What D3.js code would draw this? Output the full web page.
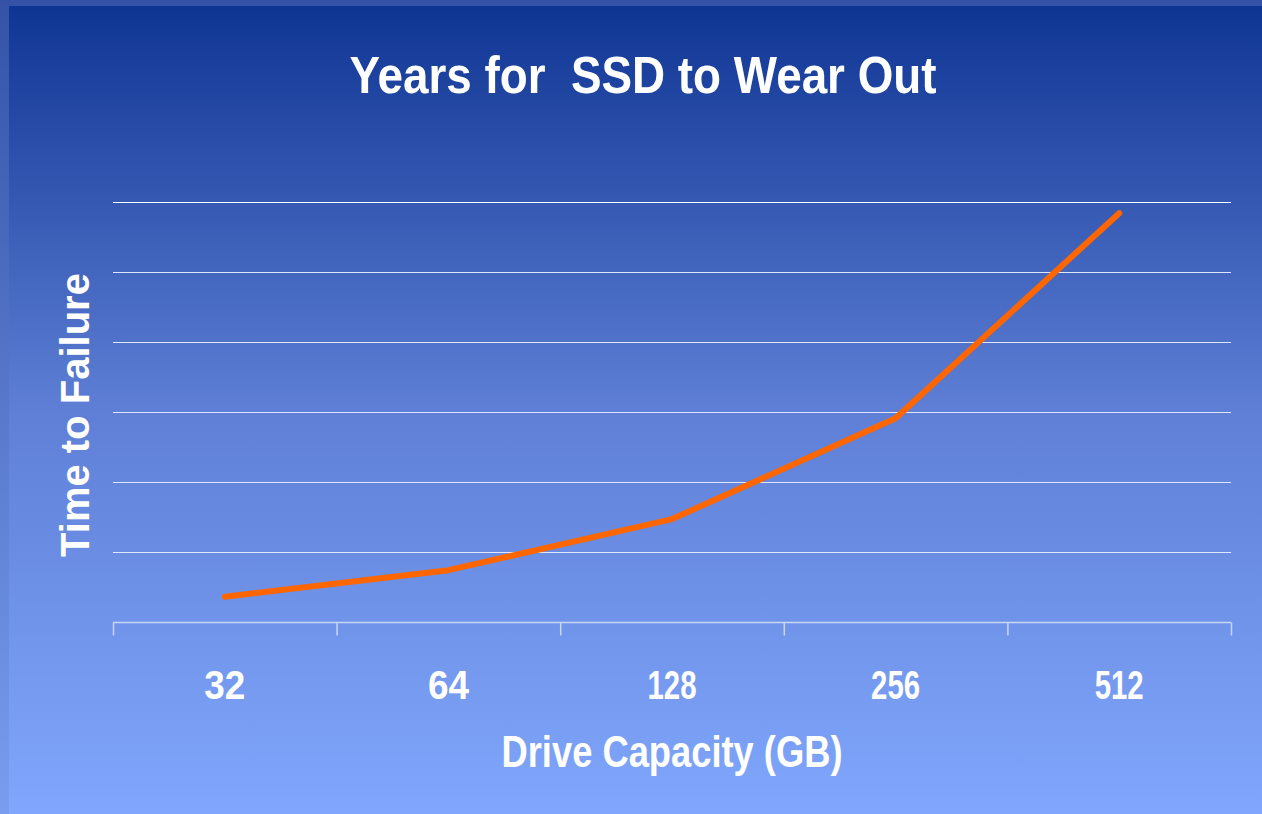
<!DOCTYPE html>
<html>
<head>
<meta charset="utf-8">
<script src="https://cdn.jsdelivr.net/npm/d3@7"></script>
<style>
  html, body { margin: 0; padding: 0; overflow: hidden; }
  svg { display: block; }
</style>
</head>
<body>
<script>
// chart data
const capacities = ["32", "64", "128", "256", "512"];
const yearsToFailure = [0.36, 0.74, 1.47, 2.91, 5.84];
const gridTicks = [0, 1, 2, 3, 4, 5, 6];

var width = 1262,
	height = 814;

var svg = d3.select("body").append("svg").attr("width", width).attr("height", height);

var defs = svg.append("defs");

var frameGrad = defs.append("linearGradient").attr("id", "frame").attr("x1", 0).attr("y1", 0).attr("x2", 0).attr("y2", 1);
frameGrad.append("stop").attr("offset", "0%").attr("stop-color", "#3453a6");
frameGrad.append("stop").attr("offset", "100%").attr("stop-color", "#7a9df0");

var bgGrad = defs.append("linearGradient").attr("id", "bg").attr("x1", 0).attr("y1", 0).attr("x2", 0).attr("y2", 1);
bgGrad.append("stop").attr("offset", "0%").attr("stop-color", "#0f3593");
bgGrad.append("stop").attr("offset", "50%").attr("stop-color", "#5e7fd5");
bgGrad.append("stop").attr("offset", "100%").attr("stop-color", "#80a7fd");

// background + slide frame
svg.append("rect").attr("width", width).attr("height", height).attr("fill", "url(#frame)");
svg.append("rect").attr("x", 9).attr("y", 6).attr("width", width - 9).attr("height", height - 6).attr("fill", "url(#bg)");

var x = d3.scaleBand().domain(capacities).range([113, 1231]).padding(0);
var y = d3.scaleLinear().domain([0, 6]).range([622, 202]);

// horizontal gridlines
svg.append("g")
	.selectAll("line")
	.data(gridTicks.slice(1))
	.enter()
	.append("line")
	.attr("x1", 113)
	.attr("x2", 1231)
	.attr("y1", (d) => y(d) + 0.5)
	.attr("y2", (d) => y(d) + 0.5)
	.style("stroke", (d) => (d === 6 ? "#ffffff" : "#dfe7fb"))
	.style("stroke-width", 1.2);

// x axis with category separators
var xAxis = svg.append("g").attr("transform", "translate(0," + (y(0) + 0.5) + ")");
xAxis.append("line").attr("x1", 113).attr("x2", 1231).style("stroke", "#c9d6f6").style("stroke-width", 1.5);
var edges = capacities.map((c) => x(c)).concat([x.range()[1]]);
xAxis.selectAll(".sep")
	.data(edges)
	.enter()
	.append("line")
	.attr("class", "sep")
	.attr("x1", (d) => d + 0.5)
	.attr("x2", (d) => d + 0.5)
	.attr("y1", 0)
	.attr("y2", 13)
	.style("stroke", "#c9d6f6")
	.style("stroke-width", 1.5);

// labels are squeezed narrow in the original
xAxis.selectAll(".lbl")
	.data(capacities)
	.enter()
	.append("text")
	.attr("class", "lbl")
	.attr("x", (d) => x(d) + x.bandwidth() / 2)
	.attr("y", 76)
	.attr("text-anchor", "middle")
	.attr("textLength", (d) => (d.length > 2 ? 49 : 41))
	.attr("lengthAdjust", "spacingAndGlyphs")
	.style("font-family", "'Liberation Sans', Arial, sans-serif")
	.style("font-weight", "bold")
	.style("font-size", "41px")
	.style("fill", "#ffffff")
	.text((d) => d);

// the line
var line = d3.line()
	.x((d, i) => x(capacities[i]) + x.bandwidth() / 2)
	.y((d) => y(d));

svg.append("path")
	.datum(yearsToFailure)
	.attr("d", line)
	.style("fill", "none")
	.style("stroke", "#ff6600")
	.style("stroke-width", 6)
	.style("stroke-linecap", "round")
	.style("stroke-linejoin", "round");

// titles
svg.append("text")
	.attr("x", 643)
	.attr("y", 93)
	.attr("text-anchor", "middle")
	.attr("textLength", 587)
	.attr("lengthAdjust", "spacingAndGlyphs")
	.style("font-family", "'Liberation Sans', Arial, sans-serif")
	.style("font-weight", "bold")
	.style("font-size", "52px")
	.style("fill", "#ffffff")
	.style("white-space", "pre")
	.text("Years for  SSD to Wear Out");

svg.append("text")
	.attr("x", 672)
	.attr("y", 767)
	.attr("text-anchor", "middle")
	.attr("textLength", 341)
	.attr("lengthAdjust", "spacingAndGlyphs")
	.style("font-family", "'Liberation Sans', Arial, sans-serif")
	.style("font-weight", "bold")
	.style("font-size", "45px")
	.style("fill", "#ffffff")
	.text("Drive Capacity (GB)");

svg.append("text")
	.attr("transform", "translate(89,415) rotate(-90)")
	.attr("text-anchor", "middle")
	.style("font-family", "'Liberation Sans', Arial, sans-serif")
	.style("font-weight", "bold")
	.style("font-size", "40px")
	.style("fill", "#ffffff")
	.text("Time to Failure");
</script>
</body>
</html>
